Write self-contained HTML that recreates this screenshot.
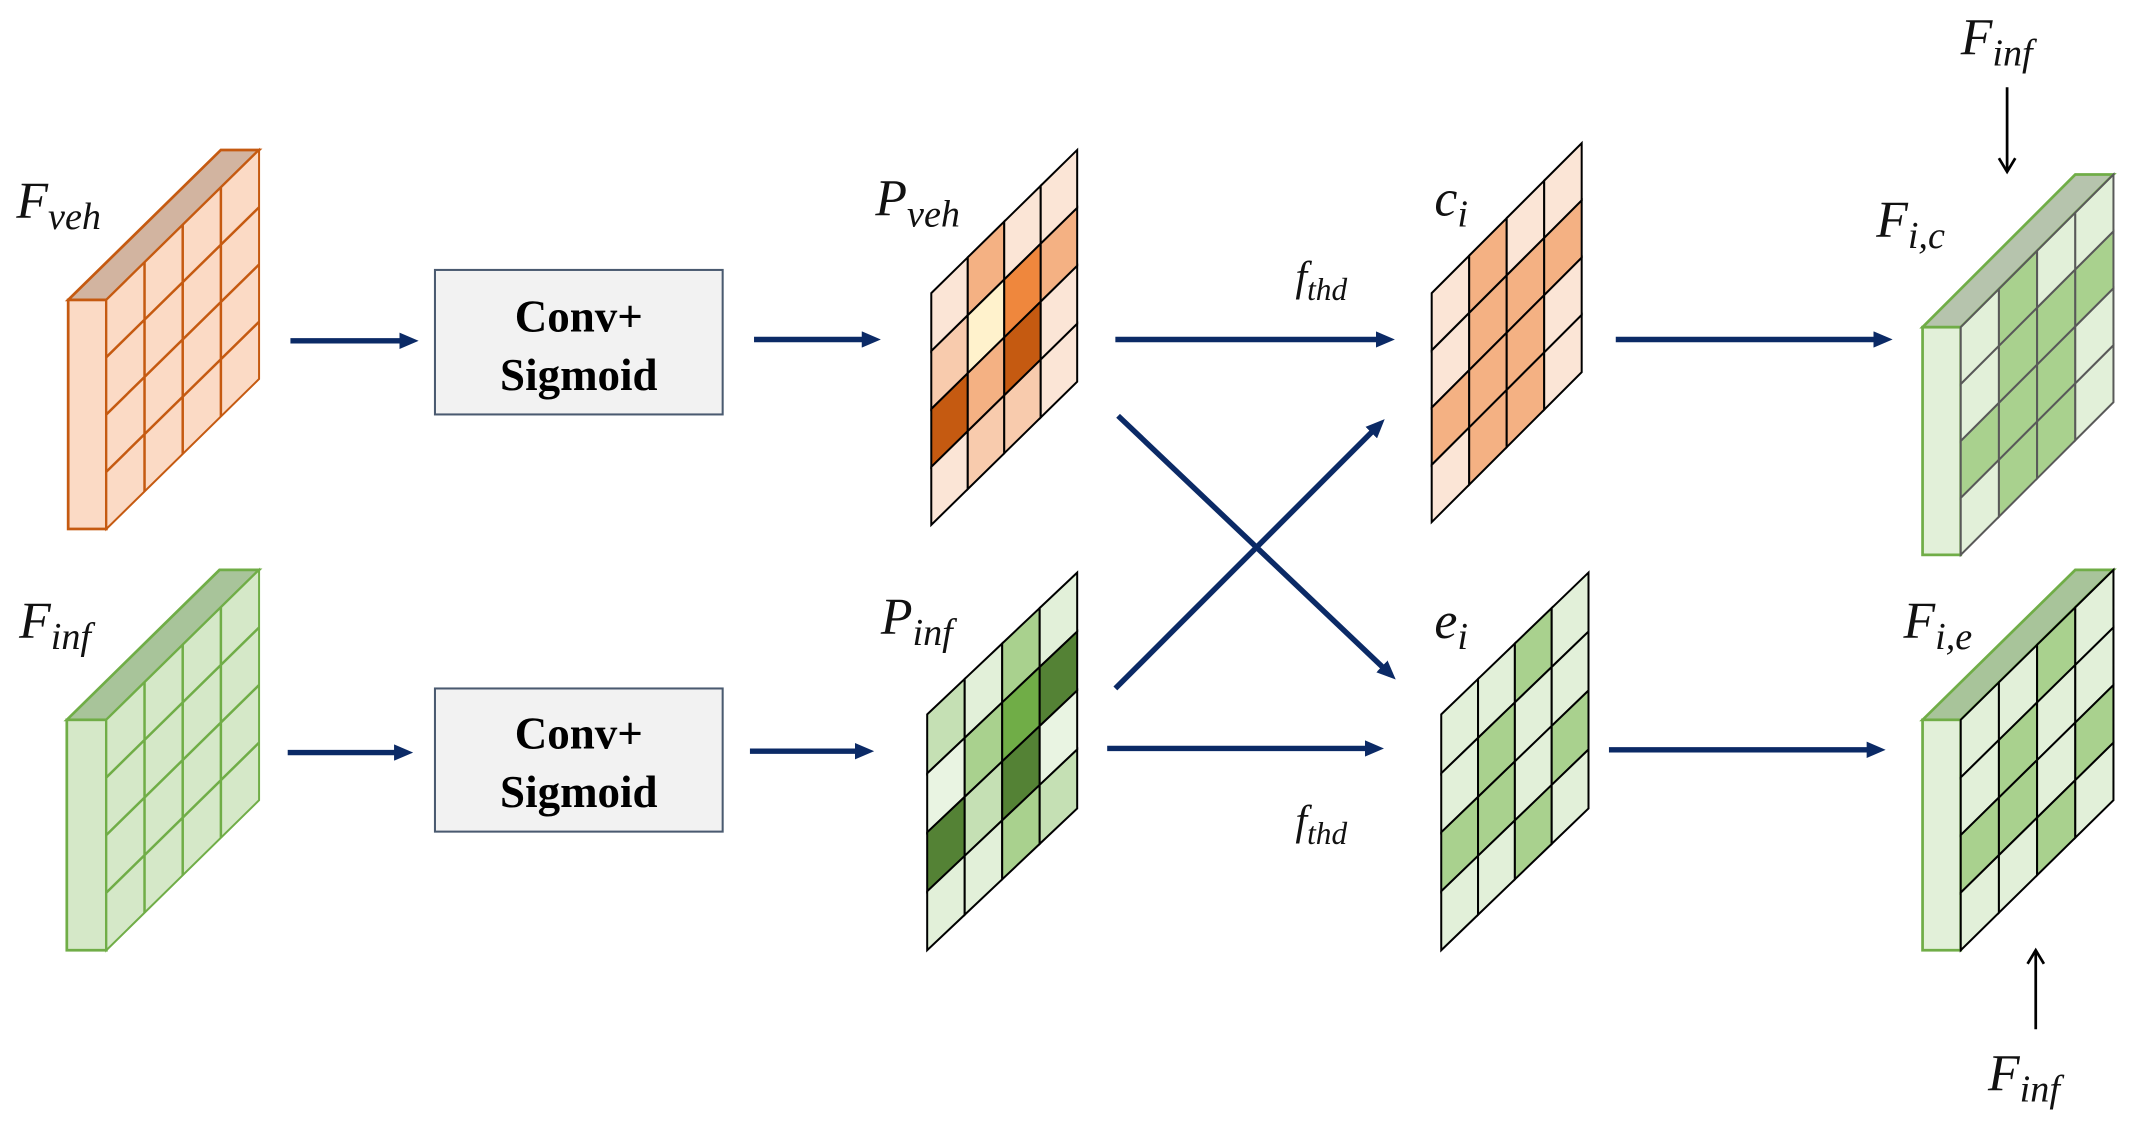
<!DOCTYPE html>
<html><head><meta charset="utf-8"><style>
html,body{margin:0;padding:0;background:#fff}
svg{display:block}
.m{font-family:"Liberation Serif",serif;font-style:italic;fill:#111}
.b{font-family:"Liberation Serif",serif;font-weight:bold;fill:#000;font-size:33px}
</style></head><body>
<svg width="2138" height="1137" viewBox="0 0 1568 834" preserveAspectRatio="none" xmlns="http://www.w3.org/2000/svg">
<defs>
<marker id="ah" markerWidth="14" markerHeight="12" refX="9" refY="6" orient="auto" markerUnits="userSpaceOnUse"><path d="M0,0 L14,6 L0,12 z" fill="#0b2a66"/></marker>
<marker id="ak" markerWidth="14" markerHeight="14" refX="12" refY="7" orient="auto" markerUnits="userSpaceOnUse"><path d="M2,1 L12,7 L2,13" fill="none" stroke="#000" stroke-width="2"/></marker>
</defs>

<polygon points="50,220 78,220 190,110 162,110" fill="#d2b4a0" stroke="#c55a11" stroke-width="2"/>
<rect x="50" y="220" width="28" height="168" fill="#fbdac5" stroke="#c55a11" stroke-width="2"/>
<g transform="matrix(112,-110,0,168,78,220)" fill="#fbdac5" stroke="#c55a11">
<rect x="0" y="0" width="1" height="1" stroke-width="2" vector-effect="non-scaling-stroke"/>
<path d="M.25,0V1M.5,0V1M.75,0V1M0,.25H1M0,.5H1M0,.75H1" fill="none" stroke-width="2.5" vector-effect="non-scaling-stroke"/>
</g>

<polygon points="49,528 78,528 190,418 161,418" fill="#a8c49a" stroke="#70ad47" stroke-width="2"/>
<rect x="49" y="528" width="29" height="169" fill="#d5e8c8" stroke="#70ad47" stroke-width="2"/>
<g transform="matrix(112,-110,0,169,78,528)" fill="#d5e8c8" stroke="#70ad47">
<rect x="0" y="0" width="1" height="1" stroke-width="2" vector-effect="non-scaling-stroke"/>
<path d="M.25,0V1M.5,0V1M.75,0V1M0,.25H1M0,.5H1M0,.75H1" fill="none" stroke-width="2.5" vector-effect="non-scaling-stroke"/>
</g>

<rect x="319" y="198" width="211" height="106" fill="#f2f2f2" stroke="#4a5a70" stroke-width="1.5"/>
<text class="b" x="424.5" y="243" text-anchor="middle">Conv+</text>
<text class="b" x="424.5" y="286" text-anchor="middle">Sigmoid</text>
<rect x="319" y="505" width="211" height="105" fill="#f2f2f2" stroke="#4a5a70" stroke-width="1.5"/>
<text class="b" x="424.5" y="549" text-anchor="middle">Conv+</text>
<text class="b" x="424.5" y="592" text-anchor="middle">Sigmoid</text>

<g transform="matrix(107,-105,0,170,683,215)" stroke="#000" stroke-width="2">
<rect x="0" y="0" width=".25" height=".25" fill="#fbe5d6" vector-effect="non-scaling-stroke"/>
<rect x="0" y=".25" width=".25" height=".25" fill="#f8cbad" vector-effect="non-scaling-stroke"/>
<rect x="0" y=".5" width=".25" height=".25" fill="#c55a11" vector-effect="non-scaling-stroke"/>
<rect x="0" y=".75" width=".25" height=".25" fill="#fbe5d6" vector-effect="non-scaling-stroke"/>
<rect x=".25" y="0" width=".25" height=".25" fill="#f4b183" vector-effect="non-scaling-stroke"/>
<rect x=".25" y=".25" width=".25" height=".25" fill="#fff2cc" vector-effect="non-scaling-stroke"/>
<rect x=".25" y=".5" width=".25" height=".25" fill="#f4b183" vector-effect="non-scaling-stroke"/>
<rect x=".25" y=".75" width=".25" height=".25" fill="#f8cbad" vector-effect="non-scaling-stroke"/>
<rect x=".5" y="0" width=".25" height=".25" fill="#fbe5d6" vector-effect="non-scaling-stroke"/>
<rect x=".5" y=".25" width=".25" height=".25" fill="#ef873d" vector-effect="non-scaling-stroke"/>
<rect x=".5" y=".5" width=".25" height=".25" fill="#c55a11" vector-effect="non-scaling-stroke"/>
<rect x=".5" y=".75" width=".25" height=".25" fill="#f8cbad" vector-effect="non-scaling-stroke"/>
<rect x=".75" y="0" width=".25" height=".25" fill="#fbe5d6" vector-effect="non-scaling-stroke"/>
<rect x=".75" y=".25" width=".25" height=".25" fill="#f4b183" vector-effect="non-scaling-stroke"/>
<rect x=".75" y=".5" width=".25" height=".25" fill="#fbe5d6" vector-effect="non-scaling-stroke"/>
<rect x=".75" y=".75" width=".25" height=".25" fill="#fbe5d6" vector-effect="non-scaling-stroke"/>
</g>

<g transform="matrix(110,-110,0,168,1050,215)" stroke="#000" stroke-width="2">
<rect x="0" y="0" width=".25" height=".25" fill="#fbe5d6" vector-effect="non-scaling-stroke"/>
<rect x="0" y=".25" width=".25" height=".25" fill="#fbe5d6" vector-effect="non-scaling-stroke"/>
<rect x="0" y=".5" width=".25" height=".25" fill="#f4b183" vector-effect="non-scaling-stroke"/>
<rect x="0" y=".75" width=".25" height=".25" fill="#fbe5d6" vector-effect="non-scaling-stroke"/>
<rect x=".25" y="0" width=".25" height=".25" fill="#f4b183" vector-effect="non-scaling-stroke"/>
<rect x=".25" y=".25" width=".25" height=".25" fill="#f4b183" vector-effect="non-scaling-stroke"/>
<rect x=".25" y=".5" width=".25" height=".25" fill="#f4b183" vector-effect="non-scaling-stroke"/>
<rect x=".25" y=".75" width=".25" height=".25" fill="#f4b183" vector-effect="non-scaling-stroke"/>
<rect x=".5" y="0" width=".25" height=".25" fill="#fbe5d6" vector-effect="non-scaling-stroke"/>
<rect x=".5" y=".25" width=".25" height=".25" fill="#f4b183" vector-effect="non-scaling-stroke"/>
<rect x=".5" y=".5" width=".25" height=".25" fill="#f4b183" vector-effect="non-scaling-stroke"/>
<rect x=".5" y=".75" width=".25" height=".25" fill="#f4b183" vector-effect="non-scaling-stroke"/>
<rect x=".75" y="0" width=".25" height=".25" fill="#fbe5d6" vector-effect="non-scaling-stroke"/>
<rect x=".75" y=".25" width=".25" height=".25" fill="#f4b183" vector-effect="non-scaling-stroke"/>
<rect x=".75" y=".5" width=".25" height=".25" fill="#fbe5d6" vector-effect="non-scaling-stroke"/>
<rect x=".75" y=".75" width=".25" height=".25" fill="#fbe5d6" vector-effect="non-scaling-stroke"/>
</g>

<g transform="matrix(110,-104,0,173,680,524)" stroke="#000" stroke-width="2">
<rect x="0" y="0" width=".25" height=".25" fill="#c5e0b4" vector-effect="non-scaling-stroke"/>
<rect x="0" y=".25" width=".25" height=".25" fill="#e9f4e2" vector-effect="non-scaling-stroke"/>
<rect x="0" y=".5" width=".25" height=".25" fill="#548235" vector-effect="non-scaling-stroke"/>
<rect x="0" y=".75" width=".25" height=".25" fill="#e2f0d9" vector-effect="non-scaling-stroke"/>
<rect x=".25" y="0" width=".25" height=".25" fill="#e2f0d9" vector-effect="non-scaling-stroke"/>
<rect x=".25" y=".25" width=".25" height=".25" fill="#a9d18e" vector-effect="non-scaling-stroke"/>
<rect x=".25" y=".5" width=".25" height=".25" fill="#c5e0b4" vector-effect="non-scaling-stroke"/>
<rect x=".25" y=".75" width=".25" height=".25" fill="#e2f0d9" vector-effect="non-scaling-stroke"/>
<rect x=".5" y="0" width=".25" height=".25" fill="#a9d18e" vector-effect="non-scaling-stroke"/>
<rect x=".5" y=".25" width=".25" height=".25" fill="#70ad47" vector-effect="non-scaling-stroke"/>
<rect x=".5" y=".5" width=".25" height=".25" fill="#548235" vector-effect="non-scaling-stroke"/>
<rect x=".5" y=".75" width=".25" height=".25" fill="#a9d18e" vector-effect="non-scaling-stroke"/>
<rect x=".75" y="0" width=".25" height=".25" fill="#e2f0d9" vector-effect="non-scaling-stroke"/>
<rect x=".75" y=".25" width=".25" height=".25" fill="#548235" vector-effect="non-scaling-stroke"/>
<rect x=".75" y=".5" width=".25" height=".25" fill="#e9f4e2" vector-effect="non-scaling-stroke"/>
<rect x=".75" y=".75" width=".25" height=".25" fill="#c5e0b4" vector-effect="non-scaling-stroke"/>
</g>

<g transform="matrix(108,-104,0,173,1057,524)" stroke="#000" stroke-width="2">
<rect x="0" y="0" width=".25" height=".25" fill="#e2f0d9" vector-effect="non-scaling-stroke"/>
<rect x="0" y=".25" width=".25" height=".25" fill="#e2f0d9" vector-effect="non-scaling-stroke"/>
<rect x="0" y=".5" width=".25" height=".25" fill="#a9d18e" vector-effect="non-scaling-stroke"/>
<rect x="0" y=".75" width=".25" height=".25" fill="#e2f0d9" vector-effect="non-scaling-stroke"/>
<rect x=".25" y="0" width=".25" height=".25" fill="#e2f0d9" vector-effect="non-scaling-stroke"/>
<rect x=".25" y=".25" width=".25" height=".25" fill="#a9d18e" vector-effect="non-scaling-stroke"/>
<rect x=".25" y=".5" width=".25" height=".25" fill="#a9d18e" vector-effect="non-scaling-stroke"/>
<rect x=".25" y=".75" width=".25" height=".25" fill="#e2f0d9" vector-effect="non-scaling-stroke"/>
<rect x=".5" y="0" width=".25" height=".25" fill="#a9d18e" vector-effect="non-scaling-stroke"/>
<rect x=".5" y=".25" width=".25" height=".25" fill="#e2f0d9" vector-effect="non-scaling-stroke"/>
<rect x=".5" y=".5" width=".25" height=".25" fill="#e2f0d9" vector-effect="non-scaling-stroke"/>
<rect x=".5" y=".75" width=".25" height=".25" fill="#a9d18e" vector-effect="non-scaling-stroke"/>
<rect x=".75" y="0" width=".25" height=".25" fill="#e2f0d9" vector-effect="non-scaling-stroke"/>
<rect x=".75" y=".25" width=".25" height=".25" fill="#e2f0d9" vector-effect="non-scaling-stroke"/>
<rect x=".75" y=".5" width=".25" height=".25" fill="#a9d18e" vector-effect="non-scaling-stroke"/>
<rect x=".75" y=".75" width=".25" height=".25" fill="#e2f0d9" vector-effect="non-scaling-stroke"/>
</g>

<polygon points="1410,240 1438,240 1550,128 1522,128" fill="#b6c4ad" stroke="#70ad47" stroke-width="2"/>
<rect x="1410" y="240" width="28" height="167" fill="#e2f0d9" stroke="#70ad47" stroke-width="2"/>
<g transform="matrix(112,-112,0,167,1438,240)" stroke="#595959" stroke-width="2">
<rect x="0" y="0" width=".25" height=".25" fill="#e2f0d9" vector-effect="non-scaling-stroke"/>
<rect x="0" y=".25" width=".25" height=".25" fill="#e2f0d9" vector-effect="non-scaling-stroke"/>
<rect x="0" y=".5" width=".25" height=".25" fill="#a9d18e" vector-effect="non-scaling-stroke"/>
<rect x="0" y=".75" width=".25" height=".25" fill="#e2f0d9" vector-effect="non-scaling-stroke"/>
<rect x=".25" y="0" width=".25" height=".25" fill="#a9d18e" vector-effect="non-scaling-stroke"/>
<rect x=".25" y=".25" width=".25" height=".25" fill="#a9d18e" vector-effect="non-scaling-stroke"/>
<rect x=".25" y=".5" width=".25" height=".25" fill="#a9d18e" vector-effect="non-scaling-stroke"/>
<rect x=".25" y=".75" width=".25" height=".25" fill="#a9d18e" vector-effect="non-scaling-stroke"/>
<rect x=".5" y="0" width=".25" height=".25" fill="#e2f0d9" vector-effect="non-scaling-stroke"/>
<rect x=".5" y=".25" width=".25" height=".25" fill="#a9d18e" vector-effect="non-scaling-stroke"/>
<rect x=".5" y=".5" width=".25" height=".25" fill="#a9d18e" vector-effect="non-scaling-stroke"/>
<rect x=".5" y=".75" width=".25" height=".25" fill="#a9d18e" vector-effect="non-scaling-stroke"/>
<rect x=".75" y="0" width=".25" height=".25" fill="#e2f0d9" vector-effect="non-scaling-stroke"/>
<rect x=".75" y=".25" width=".25" height=".25" fill="#a9d18e" vector-effect="non-scaling-stroke"/>
<rect x=".75" y=".5" width=".25" height=".25" fill="#e2f0d9" vector-effect="non-scaling-stroke"/>
<rect x=".75" y=".75" width=".25" height=".25" fill="#e2f0d9" vector-effect="non-scaling-stroke"/>
</g>

<polygon points="1410,528 1438,528 1550,418 1522,418" fill="#a8c49a" stroke="#70ad47" stroke-width="2"/>
<rect x="1410" y="528" width="28" height="169" fill="#e2f0d9" stroke="#70ad47" stroke-width="2"/>
<g transform="matrix(112,-110,0,169,1438,528)" stroke="#000" stroke-width="2">
<rect x="0" y="0" width=".25" height=".25" fill="#e2f0d9" vector-effect="non-scaling-stroke"/>
<rect x="0" y=".25" width=".25" height=".25" fill="#e2f0d9" vector-effect="non-scaling-stroke"/>
<rect x="0" y=".5" width=".25" height=".25" fill="#a9d18e" vector-effect="non-scaling-stroke"/>
<rect x="0" y=".75" width=".25" height=".25" fill="#e2f0d9" vector-effect="non-scaling-stroke"/>
<rect x=".25" y="0" width=".25" height=".25" fill="#e2f0d9" vector-effect="non-scaling-stroke"/>
<rect x=".25" y=".25" width=".25" height=".25" fill="#a9d18e" vector-effect="non-scaling-stroke"/>
<rect x=".25" y=".5" width=".25" height=".25" fill="#a9d18e" vector-effect="non-scaling-stroke"/>
<rect x=".25" y=".75" width=".25" height=".25" fill="#e2f0d9" vector-effect="non-scaling-stroke"/>
<rect x=".5" y="0" width=".25" height=".25" fill="#a9d18e" vector-effect="non-scaling-stroke"/>
<rect x=".5" y=".25" width=".25" height=".25" fill="#e2f0d9" vector-effect="non-scaling-stroke"/>
<rect x=".5" y=".5" width=".25" height=".25" fill="#e2f0d9" vector-effect="non-scaling-stroke"/>
<rect x=".5" y=".75" width=".25" height=".25" fill="#a9d18e" vector-effect="non-scaling-stroke"/>
<rect x=".75" y="0" width=".25" height=".25" fill="#e2f0d9" vector-effect="non-scaling-stroke"/>
<rect x=".75" y=".25" width=".25" height=".25" fill="#e2f0d9" vector-effect="non-scaling-stroke"/>
<rect x=".75" y=".5" width=".25" height=".25" fill="#a9d18e" vector-effect="non-scaling-stroke"/>
<rect x=".75" y=".75" width=".25" height=".25" fill="#e2f0d9" vector-effect="non-scaling-stroke"/>
</g>

<g stroke="#0b2a66" stroke-width="4" marker-end="url(#ah)" fill="none">
<line x1="213" y1="250" x2="302" y2="250"/>
<line x1="553" y1="249" x2="641" y2="249"/>
<line x1="211" y1="552" x2="298" y2="552"/>
<line x1="550" y1="551" x2="636" y2="551"/>
<line x1="818" y1="249" x2="1018" y2="249"/>
<line x1="812" y1="549" x2="1010" y2="549"/>
<line x1="820" y1="305" x2="1020" y2="495"/>
<line x1="818" y1="505" x2="1012" y2="311"/>
<line x1="1185" y1="249" x2="1383" y2="249"/>
<line x1="1180" y1="550" x2="1378" y2="550"/>
</g>
<g stroke="#000" stroke-width="2" fill="none" marker-end="url(#ak)">
<line x1="1472" y1="64" x2="1472" y2="126"/>
<line x1="1493" y1="755" x2="1493" y2="697"/>
</g>

<text class="m" x="12" y="160" font-size="38">F<tspan font-size="28" dy="8">veh</tspan></text>
<text class="m" x="14" y="468" font-size="38">F<tspan font-size="28" dy="8">inf</tspan></text>
<text class="m" x="642" y="158" font-size="38">P<tspan font-size="28" dy="8">veh</tspan></text>
<text class="m" x="646" y="465" font-size="38">P<tspan font-size="28" dy="8">inf</tspan></text>
<text class="m" x="1052" y="158" font-size="38">c<tspan font-size="28" dy="8">i</tspan></text>
<text class="m" x="1052" y="468" font-size="38">e<tspan font-size="28" dy="8">i</tspan></text>
<text class="m" x="950" y="213" font-size="31">f<tspan font-size="23" dy="7">thd</tspan></text>
<text class="m" x="950" y="612" font-size="31">f<tspan font-size="23" dy="7">thd</tspan></text>
<text class="m" x="1376" y="174" font-size="38">F<tspan font-size="28" dy="8">i,c</tspan></text>
<text class="m" x="1396" y="468" font-size="38">F<tspan font-size="28" dy="8">i,e</tspan></text>
<text class="m" x="1438" y="40" font-size="38">F<tspan font-size="28" dy="8">inf</tspan></text>
<text class="m" x="1458" y="800" font-size="38">F<tspan font-size="28" dy="8">inf</tspan></text>
</svg>
</body></html>
